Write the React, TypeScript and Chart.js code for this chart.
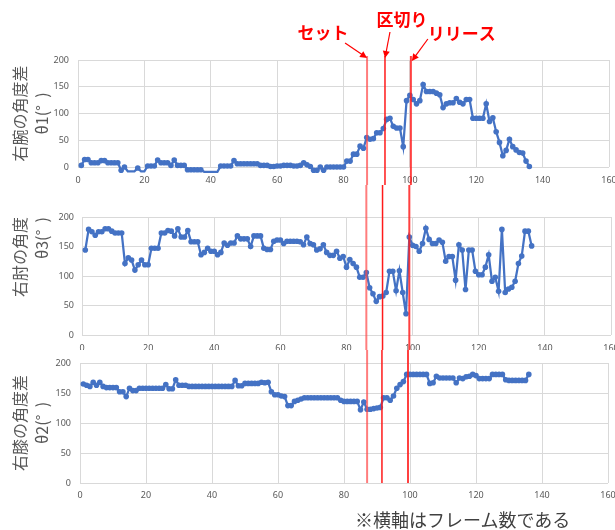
import React, { useEffect, useRef } from 'react';
import { Chart, registerables } from 'chart.js';
Chart.register(...registerables);

// ---------- data ----------
const theta1 = [
  3, 14, 14, 8, 8, 8, 12, 12, 8, 8,
  8, 8, -6, 0, -8, -8, -8, -2, -8, -8,
  2, 2, 2, 13, 8, 8, 8, 3, 13, 3,
  3, 3, -5, -5, -5, -5, -5, -9, -9, -9,
  -9, -9, 2, 2, 2, 2, 12, 6, 6, 6,
  6, 6, 6, 6, 3, 3, 3, 1, 1, 2,
  2, 3, 3, 3, 2, 2, 3, 8, 4, 1,
  -6, -6, 0, -6, 0, 0, 0, 0, 0, 0,
  11, 11, 24, 24, 39, 35, 55, 52, 53, 64,
  64, 72, 89, 91, 76, 73, 73, 38, 124, 134,
  126, 118, 124, 154, 141, 141, 141, 138, 135, 111,
  118, 120, 120, 128, 121, 118, 126, 126, 91, 91,
  91, 91, 118, 85, 92, 66, 46, 21, 31, 52,
  38, 32, 27, 26, 11, 1,
];

const theta3 = [
  144, 179, 175, 169, 175, 175, 180, 180, 176, 173,
  173, 173, 121, 131, 127, 110, 119, 127, 119, 119,
  147, 147, 147, 173, 173, 177, 176, 168, 180, 166,
  166, 177, 158, 158, 158, 136, 140, 147, 142, 142,
  136, 140, 156, 152, 156, 156, 168, 163, 163, 163,
  150, 168, 168, 168, 147, 145, 145, 159, 161, 161,
  155, 159, 159, 159, 159, 158, 153, 166, 155, 153,
  144, 146, 153, 140, 135, 135, 142, 130, 133, 115,
  128, 121, 115, 98, 98, 106, 80, 70, 57, 65,
  66, 72, 108, 108, 75, 109, 72, 36, 166, 152,
  150, 142, 155, 181, 162, 155, 155, 161, 157, 125,
  133, 133, 93, 153, 144, 77, 144, 144, 108, 102,
  102, 115, 136, 91, 98, 74, 179, 72, 78, 81,
  91, 121, 134, 176, 176, 151,
];

const theta2 = [
  165, 163, 161, 168, 163, 168, 161, 159, 159, 159,
  159, 152, 152, 144, 158, 154, 154, 158, 158, 158,
  158, 158, 158, 158, 158, 164, 157, 157, 172, 163,
  163, 163, 161, 161, 161, 161, 161, 161, 161, 161,
  161, 161, 161, 161, 161, 161, 171, 162, 162, 166,
  166, 166, 166, 166, 168, 167, 168, 152, 147, 147,
  145, 144, 129, 129, 136, 138, 140, 142, 142, 142,
  142, 142, 142, 142, 142, 142, 142, 142, 138, 136,
  136, 136, 136, 136, 122, 135, 123, 123, 124, 125,
  126, 142, 142, 138, 145, 158, 164, 169, 181, 181,
  181, 181, 181, 181, 181, 166, 167, 178, 175, 175,
  175, 175, 175, 167, 175, 174, 177, 178, 181, 179,
  174, 174, 174, 174, 181, 181, 181, 181, 172, 171,
  171, 171, 171, 171, 171, 181,
];

const frames = theta1.map((_, i) => i + 1);

const xTickValues = [0, 20, 40, 60, 80, 100, 120, 140, 160];
const yTickValues = [0, 50, 100, 150, 200];

const markerLabels = ['セット', '区切り', 'リリース'];
const markerFramesTop = [87.1, 92.5, 100.3];
const markerFramesMid = [86.0, 90.9, 99.0];
const markerFramesBot = [87.0, 91.5, 99.4];

const titleTop = ['右腕の角度差', 'θ1(°  )'];
const titleMid = ['右肘の角度', 'θ3(°  )'];
const titleBot = ['右膝の角度差', 'θ2(°  )'];
const footnote = '※横軸はフレーム数である';

// ---------- styles ----------
const BLUE = '#4472C4';
const GRID = '#d9d9d9';
const TEXT = '#595959';
const JP = '"Noto Sans CJK JP", "Noto Sans", sans-serif';

const MARKER_STYLES = [
  { color: 'rgba(255,70,70,0.7)', width: 2 },
  { color: '#ff1a1a', width: 1.5 },
  { color: 'rgba(255,30,30,0.85)', width: 2 },
];

// annotation offsets relative to each marker line pixel
const ANNOT = [
  { tx: -44, ty: 33, ax: -22, ay: 43, bx: 0, by: 58 },
  { tx: 17, ty: 20, ax: 5, ay: 32, bx: 0, by: 58 },
  { tx: 51, ty: 34, ax: 17, ay: 39, bx: 1, by: 61 },
];

function drawArrow(ctx: CanvasRenderingContext2D, x1: number, y1: number, x2: number, y2: number) {
  const ang = Math.atan2(y2 - y1, x2 - x1);
  const hl = 7;
  const hw = 3.5;
  ctx.strokeStyle = '#ff0000';
  ctx.fillStyle = '#ff0000';
  ctx.lineWidth = 1.2;
  ctx.beginPath();
  ctx.moveTo(x1, y1);
  ctx.lineTo(x2 - Math.cos(ang) * hl * 0.8, y2 - Math.sin(ang) * hl * 0.8);
  ctx.stroke();
  ctx.beginPath();
  ctx.moveTo(x2, y2);
  ctx.lineTo(
    x2 - Math.cos(ang) * hl + Math.sin(ang) * hw,
    y2 - Math.sin(ang) * hl - Math.cos(ang) * hw
  );
  ctx.lineTo(
    x2 - Math.cos(ang) * hl - Math.sin(ang) * hw,
    y2 - Math.sin(ang) * hl + Math.cos(ang) * hw
  );
  ctx.closePath();
  ctx.fill();
}

type PanelProps = {
  top: number;
  height: number;
  values: number[];
  title: string[];
  titleAlign: 'center' | 'end';
  padTop: number;
  padRight: number;
  yWidth: number;
  xHeight: number;
  xPad: number;
  yPad: number;
  markers: number[];
  lineStart: number;
  lineToArea: boolean;
  annotate: boolean;
};

function Panel(p: PanelProps) {
  const ref = useRef<HTMLCanvasElement | null>(null);
  useEffect(() => {
    if (!ref.current) return;
    const markerPlugin = {
      id: 'markerLines',
      afterDatasetsDraw(chart: any) {
        const ctx: CanvasRenderingContext2D = chart.ctx;
        const xs = chart.scales.x;
        const yEnd = p.lineToArea ? chart.chartArea.bottom : chart.height;
        ctx.save();
        p.markers.forEach((v, i) => {
          const st = MARKER_STYLES[i];
          const px = xs.getPixelForValue(v);
          ctx.strokeStyle = st.color;
          ctx.lineWidth = st.width;
          ctx.beginPath();
          ctx.moveTo(px, p.lineStart);
          ctx.lineTo(px, yEnd);
          ctx.stroke();
          if (p.annotate) {
            const a = ANNOT[i];
            ctx.fillStyle = '#ff0000';
            ctx.font = 'bold 17px ' + JP;
            ctx.textAlign = 'center';
            ctx.textBaseline = 'middle';
            ctx.fillText(markerLabels[i], px + a.tx, a.ty);
            drawArrow(ctx, px + a.ax, a.ay, px + a.bx, a.by);
          }
        });
        ctx.restore();
      },
    };

    const chart = new Chart(ref.current, {
      type: 'line',
      data: {
        datasets: [
          {
            data: frames.map((f, i) => ({ x: f, y: p.values[i] })),
            borderColor: BLUE,
            backgroundColor: BLUE,
            borderWidth: 2.25,
            pointRadius: 2.8,
            pointBorderWidth: 0,
            pointBackgroundColor: BLUE,
            tension: 0,
            clip: false as any,
          },
        ],
      },
      options: {
        animation: false,
        responsive: false,
        events: [],
        layout: { padding: { top: p.padTop, right: p.padRight, bottom: 0, left: 0 } },
        plugins: { legend: { display: false }, tooltip: { enabled: false } },
        scales: {
          x: {
            type: 'linear',
            min: xTickValues[0],
            max: xTickValues[xTickValues.length - 1],
            ticks: {
              stepSize: xTickValues[1] - xTickValues[0],
              color: TEXT,
              font: { size: 9, family: '"Noto Sans", sans-serif' },
              padding: p.xPad,
              maxRotation: 0,
              autoSkip: false,
            },
            grid: { color: GRID, drawTicks: false, lineWidth: 1 },
            border: { display: false },
            afterFit: (s: any) => {
              s.height = p.xHeight;
              s.paddingLeft = 0;
              s.paddingRight = 0;
            },
          },
          y: {
            min: yTickValues[0],
            max: yTickValues[yTickValues.length - 1],
            ticks: {
              stepSize: yTickValues[1] - yTickValues[0],
              color: TEXT,
              font: { size: 9, family: '"Noto Sans", sans-serif' },
              padding: p.yPad,
            },
            grid: { color: GRID, drawTicks: false, lineWidth: 1 },
            border: { display: false },
            title: {
              display: true,
              text: p.title,
              color: TEXT,
              align: p.titleAlign,
              font: { size: 16, family: JP, lineHeight: 1.4 },
              padding: { top: 8.8, bottom: 0 },
            },
            afterFit: (s: any) => {
              s.width = p.yWidth;
              s.paddingTop = 0;
              s.paddingBottom = 0;
            },
          },
        },
      },
      plugins: [markerPlugin],
    } as any);
    return () => chart.destroy();
  }, []);
  return (
    <canvas
      ref={ref}
      width={615}
      height={p.height}
      style={{ position: 'absolute', left: 0, top: p.top, width: 615, height: p.height }}
    />
  );
}

const PANELS: PanelProps[] = [
  {
    top: 0, height: 185, values: theta1, title: titleTop, titleAlign: 'center',
    padTop: 60, padRight: 6, yWidth: 78, xHeight: 18, xPad: 8, yPad: 9,
    markers: markerFramesTop, lineStart: 56, lineToArea: false, annotate: true,
  },
  {
    top: 185, height: 165, values: theta3, title: titleMid, titleAlign: 'end',
    padTop: 32, padRight: 3, yWidth: 82, xHeight: 15, xPad: 8, yPad: 8,
    markers: markerFramesMid, lineStart: 0, lineToArea: false, annotate: false,
  },
  {
    top: 350, height: 180, values: theta2, title: titleBot, titleAlign: 'center',
    padTop: 13, padRight: 7, yWidth: 80, xHeight: 47, xPad: 7, yPad: 9,
    markers: markerFramesBot, lineStart: 0, lineToArea: true, annotate: false,
  },
];

export default function App() {
  return (
    <div
      style={{
        position: 'fixed', left: 0, top: 0, width: 615, height: 530,
        background: '#ffffff', overflow: 'hidden',
      }}
    >
      {PANELS.map((p, i) => (
        <Panel key={i} {...p} />
      ))}
      <div
        style={{
          position: 'absolute', left: 355, top: 508, fontSize: 18, lineHeight: '22px',
          fontFamily: JP, color: '#404040', whiteSpace: 'nowrap',
        }}
      >
        {footnote}
      </div>
    </div>
  );
}
